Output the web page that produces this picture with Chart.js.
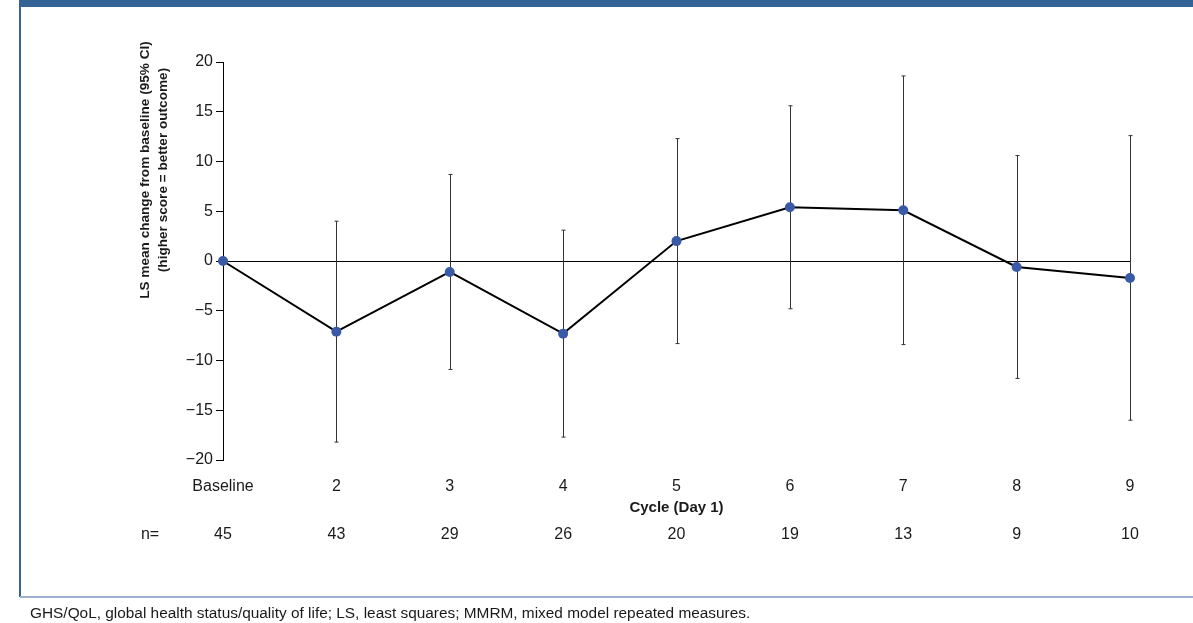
<html lang="en">
<head>
    <meta charset="UTF-8">
    <title>GHS/QoL LS mean change from baseline</title>
    <style>
        body { margin: 0; background: #fff; font-family: "Liberation Sans", Arial, Helvetica, sans-serif; }
        .page { position: relative; width: 1193px; height: 623px; overflow: hidden; }
        .banner { position: absolute; left: 20px; top: 0; right: 0; height: 7px; background: #346496; }
        .sideLine { position: absolute; left: 19px; top: 0; width: 2px; height: 597px; background: #346496; }
        .footLine { position: absolute; left: 20px; right: 0; top: 596px; height: 2px; background: #9cb0cf; }
        .footnote { position: absolute; left: 30px; top: 604px; font-size: 15.4px; color: #1a1a1a; white-space: nowrap; }
        .chartBox { position: absolute; left: 0; top: 0; width: 1193px; height: 623px; }
    </style>
</head>
<body>
<div class="page">
    <div class="chartBox"><canvas id="myChart" width="1193" height="623"></canvas></div>
    <div class="banner"></div>
    <div class="sideLine"></div>
    <div class="footLine"></div>
    <div class="footnote">GHS/QoL, global health status/quality of life; LS, least squares; MMRM, mixed model repeated measures.</div>
</div>

<script src="https://cdn.jsdelivr.net/npm/chart.js@4.4.1/dist/chart.umd.min.js"></script>
<script>
    // cycle labels and values
    const cycles = ['Baseline', '2', '3', '4', '5', '6', '7', '8', '9'];
    const lsMean = [0, -7.1, -1.1, -7.3, 2.0, 5.4, 5.1, -0.6, -1.7];
    const ciUpper = [null, 4.0, 8.7, 3.1, 12.3, 15.6, 18.6, 10.6, 12.6];
    const ciLower = [null, -18.2, -10.9, -17.7, -8.3, -4.8, -8.4, -11.8, -16.0];
    const nPatients = [45, 43, 29, 26, 20, 19, 13, 9, 10];
    const yMin = -20, yMax = 20, yStep = 5;

    const fontFamily = '"Liberation Sans", Arial, Helvetica, sans-serif';
    const textColor = '#1a1a1a';

    // 95% CI whiskers, drawn under the line and points
    const errorBars = {
        id: 'errorBars',
        beforeDatasetsDraw(chart) {
            const ctx = chart.ctx;
            const x = chart.scales.x, y = chart.scales.y;
            ctx.save();
            ctx.strokeStyle = '#333';
            ctx.lineWidth = 1;
            cycles.forEach((c, i) => {
                if (ciUpper[i] == null) return;
                const px = Math.round(x.getPixelForValue(i)) + 0.5;
                const top = y.getPixelForValue(ciUpper[i]);
                const bot = y.getPixelForValue(ciLower[i]);
                ctx.beginPath();
                ctx.moveTo(px, top); ctx.lineTo(px, bot);
                ctx.moveTo(px - 2, top); ctx.lineTo(px + 2, top);
                ctx.moveTo(px - 2, bot); ctx.lineTo(px + 2, bot);
                ctx.stroke();
            });
            ctx.restore();
        }
    };

    // axis titles and the n= row
    const extraText = {
        id: 'extraText',
        afterDraw(chart) {
            const ctx = chart.ctx;
            const x = chart.scales.x;
            ctx.save();
            ctx.fillStyle = textColor;
            ctx.textBaseline = 'middle';
            ctx.textAlign = 'center';

            ctx.font = 'bold 15px ' + fontFamily;
            ctx.fillText('Cycle (Day 1)', x.getPixelForValue(4), 508);

            ctx.font = '16px ' + fontFamily;
            ctx.fillText('n=', 150, 535);
            nPatients.forEach((n, i) => ctx.fillText(String(n), x.getPixelForValue(i), 535));

            ctx.translate(154, 170);
            ctx.rotate(-Math.PI / 2);
            ctx.font = 'bold 13.6px ' + fontFamily;
            ctx.fillText('LS mean change from baseline (95% CI)', 0, -9);
            ctx.fillText('(higher score = better outcome)', 0, 9);
            ctx.restore();
        }
    };

    const ctx = document.getElementById('myChart').getContext('2d');
    const chart = new Chart(ctx, {
        type: 'line',
        data: {
            labels: cycles,
            datasets: [{
                data: lsMean,
                borderColor: '#000',
                borderWidth: 2,
                pointRadius: 5,
                pointBackgroundColor: '#3a5aa8',
                pointBorderColor: '#3a5aa8',
                pointBorderWidth: 0,
                tension: 0
            }]
        },
        options: {
            responsive: false,
            animation: false,
            devicePixelRatio: 1,
            layout: { padding: { left: 163, top: 62, right: 63, bottom: 123 } },
            plugins: { legend: { display: false }, tooltip: { enabled: false } },
            scales: {
                x: {
                    offset: false,
                    grid: { display: false },
                    border: { display: false },
                    ticks: { color: textColor, font: { family: fontFamily, size: 16 }, padding: 9, maxRotation: 0, autoSkip: false },
                    afterFit: s => { s.height = 40; }
                },
                y: {
                    min: yMin,
                    max: yMax,
                    ticks: {
                        stepSize: yStep,
                        color: textColor,
                        font: { family: fontFamily, size: 16 },
                        padding: 3,
                        callback: v => v < 0 ? '\u2212' + Math.abs(v) : String(v)
                    },
                    grid: {
                        color: c => c.tick && c.tick.value === 0 ? '#000' : 'rgba(0,0,0,0)',
                        tickColor: '#000',
                        tickLength: 7,
                        lineWidth: 1
                    },
                    border: { display: true, color: '#000', width: 1 },
                    afterFit: s => { s.width = 60; }
                }
            }
        },
        plugins: [errorBars, extraText]
    });
</script>
</body>
</html>
